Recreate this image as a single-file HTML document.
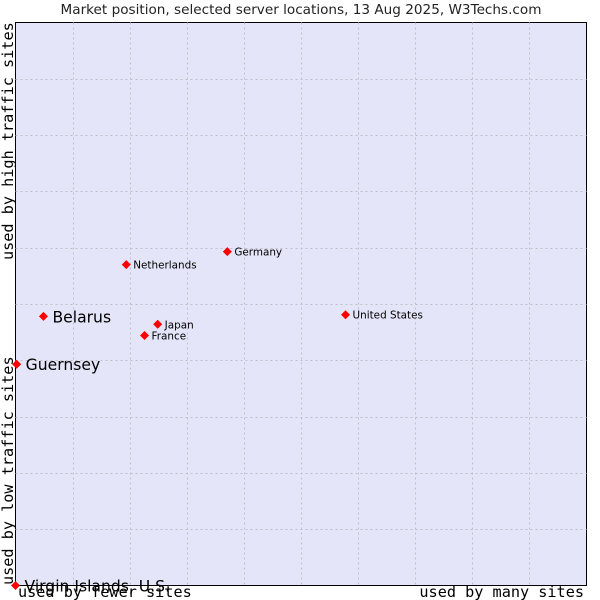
<!DOCTYPE html>
<html><head><meta charset="utf-8"><style>
body{margin:0;background:#fff}
svg{display:block}
</style></head><body>
<svg id="c" width="600" height="600" xmlns="http://www.w3.org/2000/svg">
<text x="301" y="14" text-anchor="middle" font-family="DejaVu Sans, sans-serif" font-size="13.6" fill="#222">Market position, selected server locations, 13 Aug 2025, W3Techs.com</text>
<rect x="15.5" y="22.5" width="571" height="563" fill="#e4e5f8" stroke="#000"/>
<g id="grid"></g>
<g id="pts"></g>
<text x="13" y="585" transform="rotate(-90 13 585)" font-family="DejaVu Sans Mono, monospace" font-size="15.2" fill="#000">used by low traffic sites</text>
<text x="13" y="260" transform="rotate(-90 13 260)" font-family="DejaVu Sans Mono, monospace" font-size="15.2" fill="#000">used by high traffic sites</text>
<text x="18" y="597" font-family="DejaVu Sans Mono, monospace" font-size="15.2" fill="#000">used by fewer sites</text>
<text x="584" y="597" text-anchor="end" font-family="DejaVu Sans Mono, monospace" font-size="15.2" fill="#000">used by many sites</text>
</svg>
<script>
const names=["Netherlands","Germany","Belarus","Japan","France","United States","Guernsey","Virgin Islands, U.S."];
const xs=[1.94,3.71,0.49,2.49,2.26,5.78,0.02,0];
const ys=[5.70,5.93,4.78,4.64,4.44,4.81,3.93,0];
const big=[false,false,true,false,false,false,true,true];
const L=15.5,T=22.5,W=571,H=563;
const sx=v=>L+v/10*W, sy=v=>T+H-v/10*H;
const NS="http://www.w3.org/2000/svg";
const g=document.getElementById('grid'),p=document.getElementById('pts');
for(let i=1;i<10;i++){
 let a=document.createElementNS(NS,'line');
 
 
 a.setAttribute('x1',Math.round(sx(i))+.5);a.setAttribute('x2',Math.round(sx(i))+.5);a.setAttribute('y1',T);a.setAttribute('y2',T+H);
 a.setAttribute('stroke','#c0c0c8');a.setAttribute('stroke-dasharray','2,3');g.appendChild(a);
 let b=document.createElementNS(NS,'line');
 
 
 b.setAttribute('y1',Math.round(sy(i))+.5);b.setAttribute('y2',Math.round(sy(i))+.5);b.setAttribute('x1',L);b.setAttribute('x2',L+W);
 b.setAttribute('stroke','#c0c0c8');b.setAttribute('stroke-dasharray','2,3');g.appendChild(b);
}
names.forEach((n,i)=>{
 const x=sx(xs[i]),y=sy(ys[i]);
 let d=document.createElementNS(NS,'path');
 
 
 d.setAttribute('d',`M${x} ${y-4.5}L${x+4.5} ${y}L${x} ${y+4.5}L${x-4.5} ${y}Z`);
 d.setAttribute('fill','#f00');p.appendChild(d);
 let t=document.createElementNS(NS,'text');
 
 
 t.setAttribute('x',x+(big[i]?9:7));t.setAttribute('y',y+(big[i]?6:4));
 t.setAttribute('font-family','DejaVu Sans, sans-serif');t.setAttribute('font-size',big[i]?15.6:10.4);
 t.setAttribute('fill','#000');t.textContent=n;p.appendChild(t);
});
</script>
</body></html>
